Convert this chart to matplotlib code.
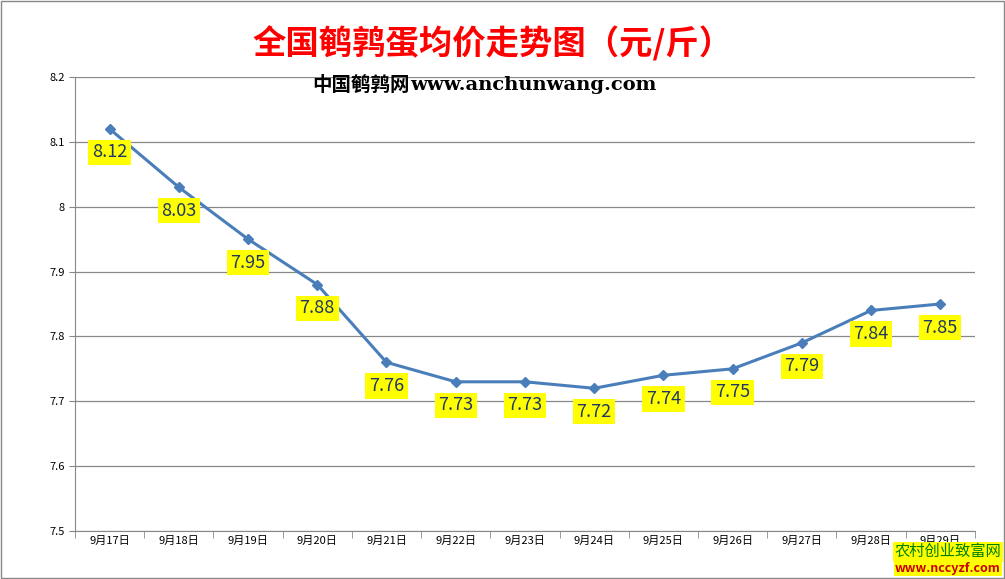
import matplotlib
matplotlib.use("Agg")
import matplotlib.pyplot as plt
from matplotlib.patches import Rectangle

plt.rcParams['font.family'] = ['Noto Sans CJK SC', 'DejaVu Sans']

dates = ["9月17日","9月18日","9月19日","9月20日","9月21日","9月22日","9月23日","9月24日","9月25日","9月26日","9月27日","9月28日","9月29日"]
prices = [8.12,8.03,7.95,7.88,7.76,7.73,7.73,7.72,7.74,7.75,7.79,7.84,7.85]
yticks = [7.5,7.6,7.7,7.8,7.9,8.0,8.1,8.2]
ytick_labels = ["7.5","7.6","7.7","7.8","7.9","8","8.1","8.2"]

fig = plt.figure(figsize=(10.05,5.79), dpi=100)
fig.patches.append(Rectangle((0.001,0.001),0.998,0.998,transform=fig.transFigure,fill=False,edgecolor='#888888',lw=1))
ax = fig.add_axes([0.0746,0.083,0.8954,0.784])
x = list(range(len(dates)))
ax.plot(x, prices, color='#4a7ebb', lw=2.2, marker='D', markersize=5, zorder=3)
for xi, p in zip(x, prices):
    ax.annotate(f"{p:.2f}", (xi, p), xytext=(0,-17), textcoords='offset points', ha='center', va='center',
                fontsize=13, color='#1f3864', bbox=dict(boxstyle='square,pad=0.2', fc='#ffff00', ec='none'), zorder=4)
ax.set_xlim(-0.5, len(dates)-0.5)
ax.set_ylim(7.5, 8.2)
ax.set_yticks(yticks)
ax.set_yticklabels(ytick_labels, fontsize=8)
ax.set_xticks(x)
ax.set_xticklabels(dates, fontsize=8)
ax.set_xticks([i-0.5 for i in range(len(dates)+1)], minor=True)
ax.tick_params(axis='x', which='major', length=0)
ax.tick_params(axis='x', which='minor', length=5, color='#888888')
ax.tick_params(axis='y', length=4, color='#888888')
ax.grid(axis='y', color='#888888', lw=0.9)
for s in ['top','right']:
    ax.spines[s].set_visible(False)
for s in ['left','bottom']:
    ax.spines[s].set_color('#888888')
ax.set_axisbelow(True)

fig.text(0.49, 0.925, "全国鹌鹑蛋均价走势图（元/斤）", ha='center', va='center', fontsize=24, fontweight='bold', color='#ff0000')
fig.text(0.408, 0.853, "中国鹌鹑网", ha='right', va='center', fontsize=14, fontweight='bold', color='black')
fig.text(0.408, 0.853, "www.anchunwang.com", ha='left', va='center', fontsize=14, fontweight='bold', color='black', family='DejaVu Serif')
fig.text(0.943, 0.047, "农村创业致富网", ha='center', va='center', fontsize=11, color='#008000', bbox=dict(boxstyle='square,pad=0.1', fc='#ffff00', ec='none'))
fig.text(0.943, 0.018, "www.nccyzf.com", ha='center', va='center', fontsize=9, fontweight='bold', color='#cc0000', bbox=dict(boxstyle='square,pad=0.1', fc='#ffff00', ec='none'))
fig.savefig("out.png", dpi=100)
